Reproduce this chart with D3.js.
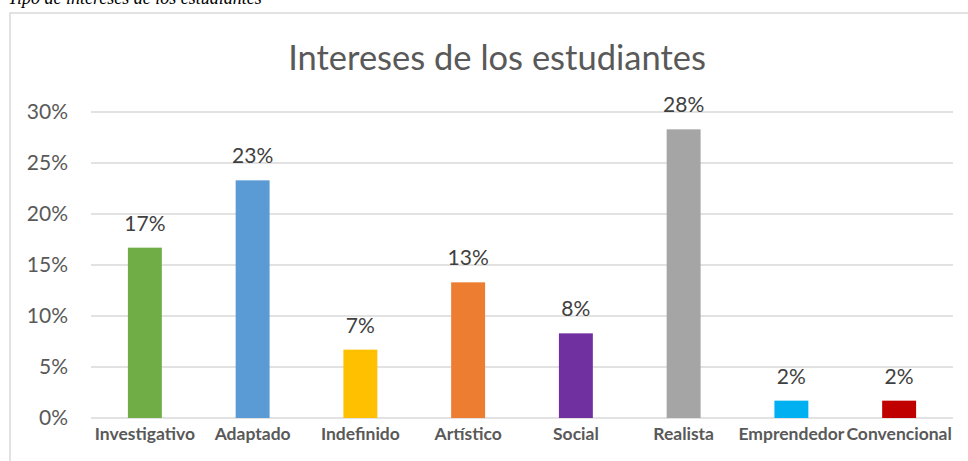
<!DOCTYPE html>
<html>
<head>
<meta charset="utf-8">
<script src="https://cdn.jsdelivr.net/npm/d3@7"></script>
<style>
  body { margin: 0; background: #fff; }
  svg { display: block; }
  .axis path { display: none; }
  .axis line { display: none; }
</style>
</head>
<body>
<svg id="chart"></svg>
<script>
// data
const categories = ['Investigativo', 'Adaptado', 'Indefinido', 'Artístico', 'Social', 'Realista', 'Emprendedor', 'Convencional'];
const shares = [0.167, 0.233, 0.067, 0.133, 0.083, 0.283, 0.017, 0.017];
const barColors = ['#70ad47', '#5b9bd5', '#ffc000', '#ed7d31', '#7030a0', '#a5a5a5', '#00b0f0', '#c00000'];
const yTicks = [0, 0.05, 0.10, 0.15, 0.20, 0.25, 0.30];
const chartTitle = 'Intereses de los estudiantes';
const caption = 'Tipo de intereses de los estudiantes';

const config = {
    width: 968,
    height: 461,
    plot: {left: 91, right: 953, top: 112, bottom: 418},
    font: 'Lato, "Open Sans", sans-serif'
};

const svg = d3.select('#chart')
    .attr('width', config.width)
    .attr('height', config.height);

// caption above the frame (its top is cut off in the original too)
svg.append('text')
    .attr('x', 8)
    .attr('y', 4)
    .attr('font-family', '"Liberation Serif", "Times New Roman", serif')
    .attr('font-style', 'italic')
    .attr('font-size', 18)
    .attr('fill', '#000')
    .text(caption);

// chart frame
svg.append('rect')
    .attr('x', 10)
    .attr('y', 13)
    .attr('width', 970)
    .attr('height', 470)
    .attr('fill', '#fff')
    .attr('stroke', '#d9d9d9')
    .attr('stroke-width', 1.5);

svg.append('text')
    .attr('x', 497)
    .attr('y', 70)
    .attr('text-anchor', 'middle')
    .attr('font-family', config.font)
    .attr('font-size', 34.5)
    .attr('fill', '#595959')
    .text(chartTitle);

const xScale = d3.scaleBand()
    .domain(categories)
    .range([config.plot.left, config.plot.right])
    .paddingInner(0.685)
    .paddingOuter(0.3425);

const yScale = d3.scaleLinear()
    .domain([0, 0.30])
    .range([config.plot.bottom, config.plot.top]);

// gridlines
svg.append('g')
    .selectAll('line')
    .data(yTicks)
    .join('line')
    .attr('x1', config.plot.left)
    .attr('x2', config.plot.right)
    .attr('y1', d => yScale(d))
    .attr('y2', d => yScale(d))
    .attr('stroke', '#d9d9d9')
    .attr('stroke-width', 1.5);

// y axis labels
const yAxis = d3.axisLeft(yScale)
    .tickValues(yTicks)
    .tickSize(0)
    .tickPadding(0)
    .tickFormat(d3.format('.0%'));

svg.append('g')
    .attr('class', 'axis')
    .attr('transform', 'translate(68,0)')
    .call(yAxis)
    .call(g => g.selectAll('text')
        .attr('font-family', config.font)
        .attr('font-size', 21)
        .attr('fill', '#595959'));

// bars
const data = categories.map((c, i) => ({cat: c, value: shares[i], color: barColors[i]}));

svg.append('g')
    .selectAll('rect')
    .data(data)
    .join('rect')
    .attr('x', d => xScale(d.cat))
    .attr('y', d => yScale(d.value))
    .attr('width', xScale.bandwidth())
    .attr('height', d => yScale(0) - yScale(d.value))
    .attr('fill', d => d.color);

// value labels
svg.append('g')
    .selectAll('text')
    .data(data)
    .join('text')
    .attr('x', d => xScale(d.cat) + xScale.bandwidth() / 2)
    .attr('y', d => yScale(d.value) - 17)
    .attr('text-anchor', 'middle')
    .attr('font-family', config.font)
    .attr('font-size', 21)
    .attr('fill', '#404040')
    .text(d => d3.format('.0%')(d.value));

// x axis labels
const xAxis = d3.axisBottom(xScale)
    .tickSize(0)
    .tickPadding(0);

svg.append('g')
    .attr('class', 'axis')
    .attr('transform', `translate(0,${config.plot.bottom + 22})`)
    .call(xAxis)
    .call(g => g.selectAll('text')
        .attr('dy', 0)
        .attr('font-family', config.font)
        .attr('font-weight', 'bold')
        .attr('font-size', 17.5)
        .attr('fill', '#595959'));
</script>
</body>
</html>
